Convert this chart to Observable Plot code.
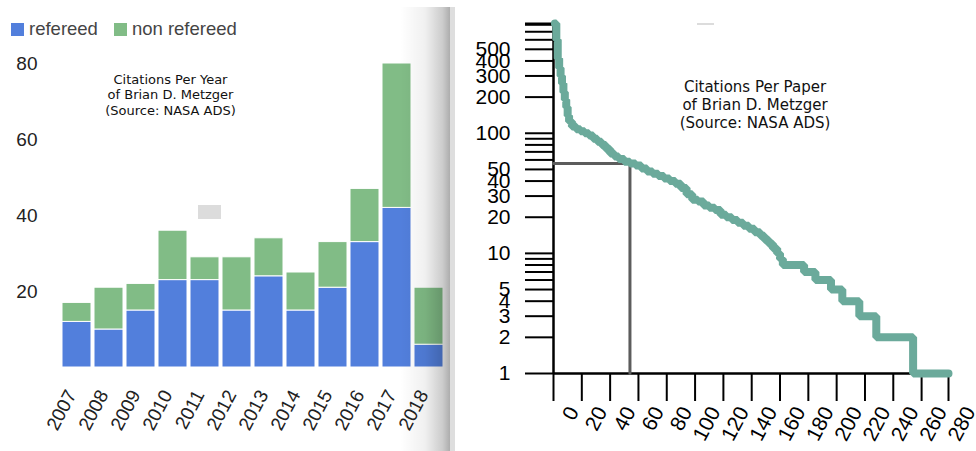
<!DOCTYPE html>
<html><head><meta charset="utf-8">
<script src="https://cdn.jsdelivr.net/npm/d3@7"></script>
<script src="https://cdn.jsdelivr.net/npm/@observablehq/plot@0.6"></script>
<style>
body{margin:0;background:#fff;width:976px;height:451px;overflow:hidden;position:relative;font-family:"Liberation Sans",Arial,sans-serif}
#left{position:absolute;left:0;top:0}
#right{position:absolute;left:455px;top:0}
#legend{position:absolute;left:11px;top:18px;font-size:18.5px;color:#444;white-space:nowrap}
#legend span.sw{display:inline-block;width:13px;height:13px;vertical-align:-1px;margin-right:5px}
#legend span.lab{margin-right:16px}
#shade{position:absolute;left:400px;top:7px;width:50px;height:444px;pointer-events:none;
 background:linear-gradient(to right,rgba(0,0,0,0) 0%,rgba(0,0,0,0.06) 50%,rgba(0,0,0,0.2) 85%,rgba(0,0,0,0.32) 100%)}
#strip{position:absolute;left:450px;top:7px;width:5px;height:444px;background:#dedede}
.art{position:absolute;background:#dcdcdc}
</style></head><body>
<div id="left"></div>
<div id="right"></div>
<div id="legend"></div>
<div id="shade"></div>
<div id="strip"></div>
<div class="art" style="left:198px;top:205px;width:23px;height:14px"></div>
<div class="art" style="left:697px;top:23px;width:17px;height:2px"></div>
<script>
// ---- Left chart data: citations per year ----
const years = ["2007","2008","2009","2010","2011","2012","2013","2014","2015","2016","2017","2018"];
const refereed = [12,10,15,23,23,15,24,15,21,33,42,6];
const nonRefereed = [5,11,7,13,6,14,10,10,12,14,38,15];
const seriesNames = ["refereed","non refereed"];
const seriesColors = ["#527fdc","#81bc86"];
const yearAxisTicks = [20,40,60,80];
const leftTitle = "Citations Per Year\nof Brian D. Metzger\n(Source: NASA ADS)";

// ---- Right chart data: citations per paper (rank, citations) ----
const paperRank = [1,2,3,4,5,6,7,8,9,10,11,13,16,19,22,25,28,31,34,37,40,43,46,50,54,58,62,66,70,74,78,82,86,90,94,98,102,106,110,114,118,122,126,130,134,138,142,146,149,152,155,158,160,162,177,185,196,204,216,228,254,279];
const paperCites = [820,600,420,350,300,260,220,190,165,140,125,114,108,104,100,96,90,85,80,74,68,64,61,58,56,54,51,48,46,44,42,40,38,35,31,28,27,25,24,23,21,20,19,18,17,16,15,14,13,12,11,10,9,8,7,6,5,4,3,2,1,1];
const hIndex = 54;
const hCites = 56;
const rightYTicks = [1,2,3,4,5,6,7,8,9,10,20,30,40,50,60,70,80,90,100,200,300,400,500,600,700,800];
const rightYLabels = [1,2,3,4,5,10,20,30,40,50,100,200,300,400,500];
const rightXTicks = [0,20,40,60,80,100,120,140,160,180,200,220,240,260];
const rightXLabels = [0,20,40,60,80,100,120,140,160,180,200,220,240,260,280];
const rightTitle = "Citations Per Paper\nof Brian D. Metzger\n(Source: NASA ADS)";

// legend
const lg = document.getElementById("legend");
seriesNames.forEach((n,i)=>{
  const s=document.createElement("span");s.className="sw";s.style.background=seriesColors[i];lg.appendChild(s);
  const t=document.createElement("span");t.className="lab";t.textContent=n;lg.appendChild(t);
});

// left
const rows = years.flatMap((y,i)=>[
  {year:y, series:seriesNames[0], value:refereed[i]},
  {year:y, series:seriesNames[1], value:nonRefereed[i]}
]);
const left = Plot.plot({
  width:455, height:451,
  marginLeft:57, marginRight:8, marginTop:63, marginBottom:84,
  style:{fontFamily:"'Liberation Sans',Arial,sans-serif", fontSize:"19px", color:"#222", background:"transparent"},
  x:{domain:years, paddingInner:0.1, paddingOuter:0.05, axis:null},
  y:{domain:[0,80], axis:null},
  color:{domain:seriesNames, range:seriesColors},
  marks:[
    Plot.barY(rows,{x:"year", y:"value", fill:"series", z:"series", order:seriesNames, stroke:"white", strokeWidth:1}),
    Plot.text(yearAxisTicks,{y:d=>d, frameAnchor:"left", textAnchor:"end", dx:-20, fontSize:19, fill:"#222"}),
    Plot.text(years,{x:d=>d, frameAnchor:"bottom", rotate:-62, textAnchor:"end", dx:0, dy:27, fontSize:19, fill:"#222"}),
    Plot.text([leftTitle],{frameAnchor:"top", dx:-82, dy:9.5, fontFamily:"'DejaVu Sans',sans-serif", fontSize:13, lineHeight:1.18, fill:"#111"})
  ]
});
document.getElementById("left").appendChild(left);

// right
const papers = paperRank.map((r,i)=>({rank:r, cites:paperCites[i]}));
const hLine = [{rank:0, cites:hCites},{rank:hIndex, cites:hCites},{rank:hIndex, cites:1}];
const right = Plot.plot({
  width:521, height:451,
  marginLeft:98, marginRight:28, marginTop:23, marginBottom:78,
  style:{fontFamily:"'Liberation Sans',Arial,sans-serif", fontSize:"21px", color:"#000", background:"transparent"},
  x:{domain:[0, d3.max(paperRank)], axis:null},
  y:{type:"log", domain:[1, d3.max(paperCites)], axis:null},
  marks:[
    Plot.axisY(rightYTicks.concat([d3.max(paperCites)]),{tickSize:28, strokeWidth:2, tickFormat:()=>"", label:null}),
    Plot.axisX(rightXTicks.concat([d3.max(paperRank)]),{tickSize:28, strokeWidth:2, tickFormat:()=>"", label:null}),
    Plot.ruleX([0],{stroke:"#000", strokeWidth:2.5}),
    Plot.ruleY([1],{stroke:"#000", strokeWidth:2.5}),
    Plot.text(rightYLabels,{y:d=>d, frameAnchor:"left", textAnchor:"end", dx:-43, fontSize:21, fill:"#000"}),
    Plot.text(rightXLabels,{x:d=>d, frameAnchor:"bottom", rotate:-62, textAnchor:"end", dx:26, dy:38, fontSize:21, fill:"#000"}),
    Plot.line(hLine,{x:"rank", y:"cites", stroke:"#5c5c5c", strokeWidth:3}),
    Plot.line(papers,{x:"rank", y:"cites", curve:"step-after", stroke:"#6baa9b", strokeWidth:8, strokeLinejoin:"miter"}),
    Plot.text([rightTitle],{frameAnchor:"top", dx:4, dy:56.5, fontFamily:"'DejaVu Sans',sans-serif", fontSize:15, lineHeight:1.17, fill:"#111"})
  ]
});
document.getElementById("right").appendChild(right);
</script>
</body></html>
